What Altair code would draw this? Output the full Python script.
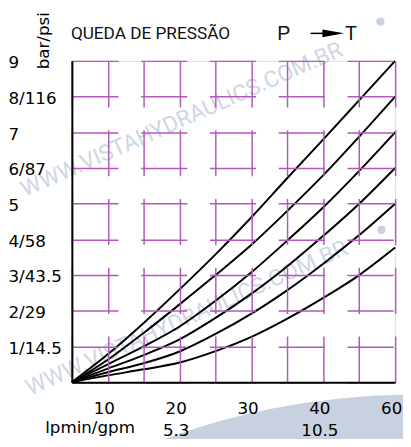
import altair as alt
import pandas as pd

# grid columns (x) 0..9 ; pressure drop in bar (y)
flow_col = [0, 1, 2, 3, 4, 5, 6, 7, 8, 9]
curve_1 = [0, 0.78, 1.66, 2.60, 3.58, 4.62, 5.72, 6.80, 7.90, 9.00]
curve_2 = [0, 0.63, 1.38, 2.18, 3.00, 3.85, 4.80, 5.80, 6.88, 8.00]
curve_3 = [0, 0.50, 1.00, 1.56, 2.28, 3.08, 3.97, 4.90, 5.92, 7.00]
curve_4 = [0, 0.38, 0.76, 1.20, 1.80, 2.48, 3.25, 4.10, 5.00, 6.00]
curve_5 = [0, 0.28, 0.53, 0.86, 1.35, 1.92, 2.58, 3.32, 4.12, 5.00]
curve_6 = [0, 0.19, 0.36, 0.55, 0.87, 1.27, 1.78, 2.36, 3.00, 3.77]

x_tick_pos = [1, 3, 5, 7, 9]
x_tick_lpm = ["10", "20", "30", "40", "60"]
x_tick_gpm = ["", "5.3", "", "10.5", ""]
y_tick_pos = [1, 2, 3, 4, 5, 6, 7, 8, 9]
y_tick_lbl = ["1/14.5", "2/29", "3/43.5", "4/58", "5", "6/87", "7", "8/116", "9"]

curves = [curve_1, curve_2, curve_3, curve_4, curve_5, curve_6]
rows = []
for i, c in enumerate(curves):
    for u, v in zip(flow_col, c):
        rows.append({"curve": f"c{i+1}", "u": u, "bar": v})
df = pd.DataFrame(rows)

W, H = 329, 327
GRID = "#b25ab9"
LABFONT = "DejaVu Sans"
WM = "#c3cedb"
WMFONT = "Roboto"

x_expr = " : ".join(
    f"datum.value == {p} ? ['{a}', '{b}']" for p, a, b in zip(x_tick_pos, x_tick_lpm, x_tick_gpm)
) + " : ''"
y_expr = " : ".join(
    f"datum.value == {p} ? '{l}'" for p, l in zip(y_tick_pos, y_tick_lbl)
) + " : ''"

x_axis = alt.Axis(
    values=list(range(10)), labelExpr=x_expr, grid=True, gridColor=GRID,
    gridDash=[47, 23], gridWidth=1.5, domainColor="black", domainWidth=2,
    ticks=False, tickSize=0, labelFont=LABFONT, labelFontSize=17, labelColor="black",
    labelPadding=19, labelOffset=-4, labelLineHeight=22, labelBaseline="top",
    labelOverlap=False, labelFlush=False, labelBound=False,
    title="lpmin/gpm", titleX=18, titleY=46, titleAlign="center", titleBaseline="middle",
    titleFont=LABFONT, titleFontSize=17, titleFontWeight="normal", titleColor="black",
    zindex=1,
)
y_axis = alt.Axis(
    values=list(range(10)), labelExpr=y_expr, grid=True, gridColor=GRID,
    gridDash=[47, 23], gridWidth=1.5, domainColor="black", domainWidth=2,
    ticks=False, tickSize=0, labelFont=LABFONT, labelFontSize=17, labelColor="black",
    labelPadding=65, labelAlign="left", labelBaseline="middle", labelOffset=2,
    labelOverlap=False, labelFlush=False, labelBound=False,
    title="bar/psi", titleX=-29, titleY=-21, titleAngle=270, titleAlign="center",
    titleBaseline="middle", titleFont=LABFONT, titleFontSize=17, titleFontWeight="normal",
    titleColor="black", zindex=1,
)

one = pd.DataFrame({"k": [0]})

# big pale background ellipse (bottom right decoration)
ellipse = alt.Chart(one).mark_point(
    shape="circle", filled=True, color="#c8d1df", opacity=1, size=2143000
).encode(x=alt.value(347), y=alt.value(1072))

wm1 = alt.Chart(one).mark_text(
    text="WWW.VISTAHYDRAULICS.COM.BR", font=WMFONT, fontSize=23,
    angle=336, color=WM, opacity=0.8, align="center", baseline="middle"
).encode(x=alt.value(112), y=alt.value(60))
wm2 = alt.Chart(one).mark_text(
    text="WWW.VISTAHYDRAULICS.COM.BR", font=WMFONT, fontSize=23,
    angle=336, color=WM, opacity=0.8, align="center", baseline="middle"
).encode(x=alt.value(117), y=alt.value(262))
dot1 = alt.Chart(one).mark_point(shape="circle", filled=True, color=WM, size=70, opacity=0.9).encode(
    x=alt.value(314), y=alt.value(-40))
dot2 = alt.Chart(one).mark_point(shape="circle", filled=True, color=WM, size=70, opacity=0.9).encode(
    x=alt.value(315), y=alt.value(172))

lines = alt.Chart(df).mark_line(color="black", strokeWidth=2, interpolate="monotone").encode(
    x=alt.X("u:Q", scale=alt.Scale(domain=[0, 9], nice=False, zero=False), axis=x_axis),
    y=alt.Y("bar:Q", scale=alt.Scale(domain=[0, 9], nice=False, zero=False), axis=y_axis),
    detail="curve:N",
)

title = alt.Chart(one).mark_text(
    text="QUEDA DE PRESSÃO", font="Roboto", fontSize=17.5, color="#111111",
    align="left", baseline="alphabetic"
).encode(x=alt.value(-1), y=alt.value(-22))
p_txt = alt.Chart(one).mark_text(
    text="P", font="Liberation Sans", fontSize=20, color="#111111", align="left", baseline="alphabetic"
).encode(x=alt.value(209), y=alt.value(-21))
t_txt = alt.Chart(one).mark_text(
    text="T", font="Liberation Sans", fontSize=20, color="#111111", align="left", baseline="alphabetic"
).encode(x=alt.value(278), y=alt.value(-21))
shaft = alt.Chart(one).mark_rule(color="black", strokeWidth=1.5).encode(
    x=alt.value(243), x2=alt.value(262), y=alt.value(-28))
head = alt.Chart(one).mark_point(
    shape="M-1,-0.36L1,0L-1,0.36Z", filled=True, color="black", size=484, opacity=1
).encode(x=alt.value(266), y=alt.value(-28))

chart = alt.layer(
    ellipse, wm1, wm2, dot1, dot2, lines, title, p_txt, t_txt, shaft, head
).properties(
    width=W, height=H,
    padding={"left": 65, "top": 50, "right": 8, "bottom": 54},
    autosize=alt.AutoSizeParams(type="none"),
).configure_view(stroke=None).configure(background="white")

chart.save("out.html", embed_options={"renderer": "svg", "actions": False})
